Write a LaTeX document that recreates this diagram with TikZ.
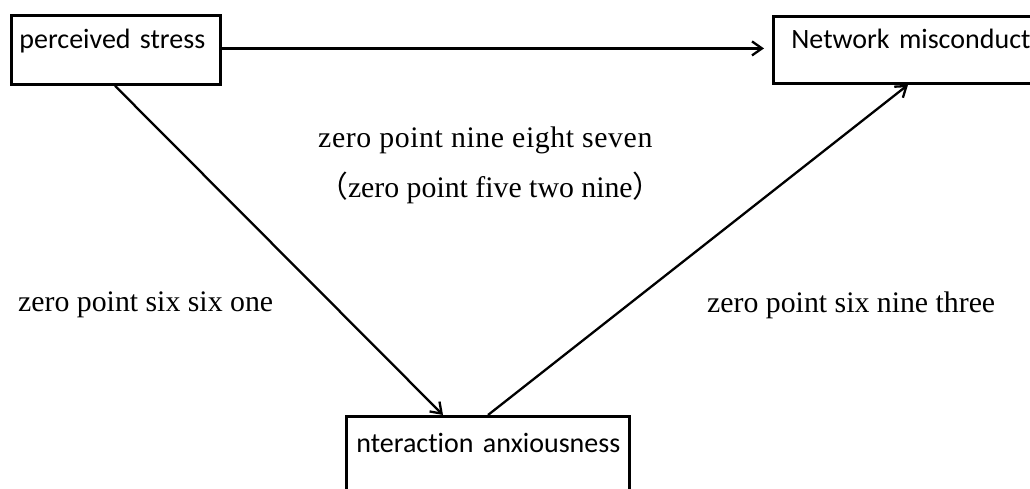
\documentclass[tikz,border=0pt]{standalone}
\usepackage{fontspec}
\setmainfont{Liberation Serif}
\newfontfamily\boxfont[Ligatures=CommonOff]{Carlito}
\newfontfamily\cjk{Noto Sans CJK SC}
\usetikzlibrary{arrows.meta}
\begin{document}
\begin{tikzpicture}[x=1pt,y=-1pt,
  box/.style={draw, line width=2.8pt, inner ysep=0pt, align=left, anchor=north west,
    font=\boxfont\fontsize{28}{34}\selectfont},
  lab/.style={anchor=base west, inner sep=0pt, font=\rmfamily\fontsize{29.8}{36}\selectfont},
  arr/.style={line width=2.3pt, -{Straight Barb[length=10pt,width=14pt,line width=2.3pt]}}]
\useasboundingbox (0,0) rectangle (1030,488);
\clip (0,0) rectangle (1030,488);
\node[box, inner xsep=8pt, text width=193pt, text height=33pt, text depth=36pt] (b1) at (10,14) {\mbox{perceived stress}};
\node[box, inner xsep=18pt, text width=300pt, text height=32pt, text depth=35pt] (b2) at (772,15) {\mbox{Network misconduct}};
\node[box, inner xsep=10pt, text width=263pt, text height=36pt, text depth=60pt] (b3) at (345,415) {\mbox{nteraction anxiousness}};
\draw[arr, shorten >=8pt] ([yshift=1.5pt]b1.east) -- ([yshift=1.5pt]b1.east -| b2.west);
\draw[arr] ([xshift=105pt]b1.south west) -- ([xshift=98pt]b3.north west);
\draw[arr] ([xshift=143pt]b3.north west) -- ([xshift=136pt]b2.south west);
\node[lab] (l1) at (318,147) {\addfontfeature{LetterSpace=2}zero point nine eight seven};
\node[lab] (l2) at (318,197) {{\cjk （}{\rmfamily zero point five two nine}{\cjk ）}};
\node[lab] (l3) at (18,311) {zero point six six one};
\node[lab] (l4) at (707,312) {zero point six nine three};
\end{tikzpicture}
\end{document}
